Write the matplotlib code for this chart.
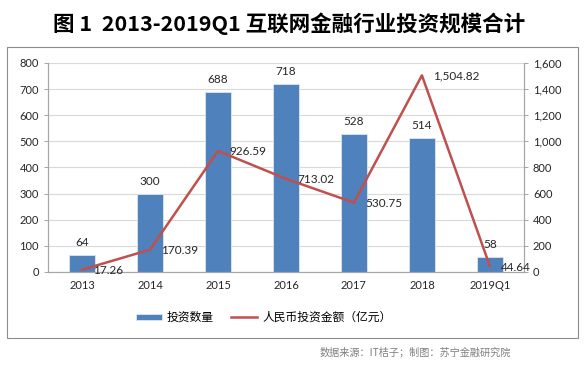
import matplotlib
matplotlib.use("Agg")
import matplotlib.pyplot as plt
import matplotlib.patches as patches
from matplotlib.ticker import FuncFormatter, MultipleLocator

plt.rcParams['font.family'] = ['Lato', 'Noto Sans CJK SC', 'DejaVu Sans']

# --- data ---
years = ["2013", "2014", "2015", "2016", "2017", "2018", "2019Q1"]
deal_count = [64, 300, 688, 718, 528, 514, 58]
amount_rmb = [17.26, 170.39, 926.59, 713.02, 530.75, 1504.82, 44.64]

BAR_COLOR = "#4F81BD"
LINE_COLOR = "#C0504D"
GRID_COLOR = "#D9D9D9"
AXIS_COLOR = "#A6A6A6"
CJK = ['Noto Sans CJK SC', 'DejaVu Sans']

fig = plt.figure(figsize=(5.86, 3.68), dpi=100)

# outer frame round the chart
frame = patches.Rectangle((0.012, 0.082), 0.974, 0.790, transform=fig.transFigure,
                          fill=False, edgecolor="#8C8C8C", linewidth=0.8)
fig.patches.append(frame)

fig.text(0.493, 0.935, "图 1  2013-2019Q1 互联网金融行业投资规模合计",
         ha="center", va="center", fontsize=15.5, fontweight="bold", family=CJK)

ax = fig.add_axes([0.082, 0.261, 0.812, 0.568])
x = list(range(len(years)))

ax.bar(x, deal_count, width=0.39, color=BAR_COLOR, edgecolor="#DCE6F2",
       linewidth=0.6, zorder=2, label="投资数量")
ax.set_ylim(0, 800)
ax.set_xlim(-0.5, len(years) - 0.5)
ax.yaxis.set_major_locator(MultipleLocator(100))
ax.grid(axis="y", color=GRID_COLOR, linewidth=0.8, zorder=0)
ax.set_axisbelow(True)
ax.set_xticks(x)
ax.set_xticklabels(years)

for xi, v in zip(x, deal_count):
    ax.annotate(str(v), (xi, v), xytext=(0, 7), textcoords="offset pixels",
                ha="center", va="bottom", fontsize=8.5, color="#262626")

ax2 = ax.twinx()
ax2.plot(x, amount_rmb, color=LINE_COLOR, linewidth=1.8, zorder=3,
         label="人民币投资金额（亿元）")
ax2.set_ylim(0, 1600)
ax2.yaxis.set_major_locator(MultipleLocator(200))
ax2.yaxis.set_major_formatter(FuncFormatter(lambda v, p: f"{v:,.0f}"))

for xi, v in zip(x, amount_rmb):
    ax2.annotate(f"{v:,.2f}", (xi, v), xytext=(11, -1), textcoords="offset pixels",
                 ha="left", va="center", fontsize=8.5, color="#262626")

for a in (ax, ax2):
    a.tick_params(labelsize=8, colors="#262626", length=3, width=0.7)
    for s in a.spines.values():
        s.set_color(AXIS_COLOR)
        s.set_linewidth(0.8)
    a.spines["top"].set_visible(False)
ax.tick_params(axis="x", length=0, pad=6)
ax2.tick_params(axis="y", color=AXIS_COLOR)
ax.tick_params(axis="y", color=AXIS_COLOR)

h1, l1 = ax.get_legend_handles_labels()
h2, l2 = ax2.get_legend_handles_labels()
leg = fig.legend(h1 + h2, l1 + l2, loc="center", bbox_to_anchor=(0.45, 0.137),
                 ncol=2, frameon=False, handlelength=2.2, handleheight=0.5,
                 columnspacing=1.5, handletextpad=0.4, prop={"family": CJK, "size": 8.5})

fig.text(0.872, 0.043, "数据来源：IT桔子；制图：苏宁金融研究院", ha="right", va="center",
         fontsize=7.3, color="#7F7F7F", style="italic", family=CJK)

fig.savefig("out.png", dpi=100)
